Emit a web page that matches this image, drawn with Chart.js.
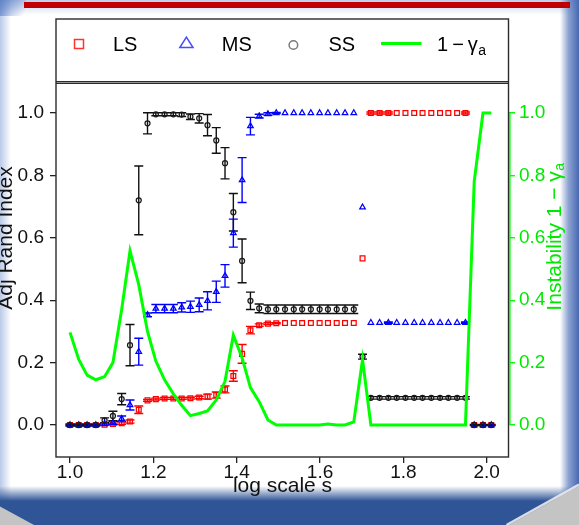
<!DOCTYPE html>
<html><head><meta charset="utf-8">
<script src="https://cdn.jsdelivr.net/npm/chart.js@4.4.0/dist/chart.umd.min.js"></script>
<style>html,body{margin:0;padding:0;background:#fff;overflow:hidden}canvas{display:block}</style>
</head><body>
<canvas id="c" width="579" height="525" style="width:579px;height:525px"></canvas>
<script>
// ---- data ----
const scaleS = [1.000,1.021,1.041,1.062,1.083,1.103,1.124,1.144,1.165,1.186,
                1.206,1.227,1.248,1.268,1.289,1.310,1.330,1.351,1.372,1.392,
                1.413,1.433,1.454,1.475,1.495,1.516,1.537,1.557,1.578,1.599,
                1.619,1.640,1.660,1.681,1.702,1.722,1.743,1.764,1.784,1.805,
                1.826,1.846,1.867,1.888,1.908,1.929,1.949,1.970,1.991,2.011];
const adjRandLS = [0,0,0,0,0.001,0.003,0.006,0.011,0.049,0.079,
                   0.083,0.085,0.085,0.085,0.086,0.088,0.091,0.096,0.114,0.157,
                   0.228,0.304,0.320,0.325,0.326,0.327,0.327,0.327,0.327,0.327,
                   0.327,0.327,0.327,0.327,0.534,1,1,1,1,1,
                   1,1,1,1,1,1,1,0,0,0];
const errLS = [0,0,0,0,0,0.003,0.004,0.005,0.012,0.003,
               0.003,0.003,0.003,0.003,0.003,0.004,0.008,0.010,0.011,0.017,
               0.030,0.012,0.004,0.003,0.002,0,0,0,0,0,
               0,0,0,0,0,0.003,0.003,0.003,0,0,
               0,0,0,0,0,0,0.003,0,0,0];
const adjRandMS = [0,0,0,0,0.003,0.007,0.020,0.064,0.235,0.353,
                   0.373,0.373,0.373,0.377,0.379,0.385,0.398,0.427,0.478,0.615,
                   0.785,0.958,0.990,0.997,1,1,1,1,1,1,
                   1,1,1,1,0.698,0.328,0.328,0.328,0.328,0.328,
                   0.328,0.328,0.328,0.328,0.328,0.328,0.328,0,0,0];
const errMS = [0.002,0.002,0.002,0.002,0.003,0.005,0.009,0.016,0.043,0.006,
               0.013,0.013,0.013,0.015,0.018,0.022,0.029,0.034,0.036,0.045,
               0.072,0.028,0.006,0.004,0.002,0,0,0,0,0,
               0,0,0,0,0,0,0,0.002,0,0,
               0,0,0,0,0,0,0.002,0,0,0];
const adjRandSS = [0,0,0,0,0.015,0.029,0.083,0.256,0.720,0.967,
                   0.996,0.996,0.996,0.995,0.988,0.983,0.961,0.912,0.839,0.682,
                   0.526,0.398,0.374,0.371,0.371,0.371,0.371,0.371,0.371,0.371,
                   0.371,0.371,0.371,0.371,0.219,0.087,0.087,0.087,0.087,0.087,
                   0.087,0.087,0.087,0.087,0.087,0.087,0.087,0,0,0];
const errSS = [0.003,0.003,0.003,0.003,0.008,0.015,0.018,0.066,0.110,0.034,
               0.005,0.005,0.005,0.006,0.009,0.015,0.034,0.041,0.050,0.060,
               0.070,0.028,0.014,0.0135,0.0135,0.0135,0.0135,0.0135,0.0135,0.0135,
               0.0135,0.0135,0.0135,0.0135,0.008,0.004,0.004,0.004,0.004,0.004,
               0.004,0.004,0.004,0.004,0.004,0.004,0.004,0.002,0.002,0.002];
const instability = [0.297,0.210,0.160,0.145,0.155,0.200,0.370,0.558,0.450,0.300,
                     0.205,0.145,0.100,0.063,0.030,0.037,0.045,0.080,0.140,0.288,
                     0.215,0.120,0.075,0.016,0,0,0,0,0,0,
                     0.003,0,0,0.010,0.210,0,0,0,0,0,
                     0,0,0,0,0,0,0,0.780,1.0,1.0];
const xTicks = [1.0,1.2,1.4,1.6,1.8,2.0];
const yTicks = [0,0.2,0.4,0.6,0.8,1.0];
const seriesNames = ['LS','MS','SS'];
const lineName = ['1\u2009\u2212\u2009\u03b3','a'];
const xTitle = 'log scale s';
const yTitle = 'Adj Rand Index';
const y2Title = ['Instability 1 \u2212 \u03b3','a'];

// ---- styles ----
const FONT = '"Liberation Sans", Arial, sans-serif';
const RED = '#ff0000', BLUE = '#0000ff', BLACK = '#1a1a1a', GREEN = '#00ff00', GREEN_TXT = '#00e800';
Chart.defaults.font.family = FONT;

const slideBg = {
  id: 'slideBg',
  beforeDraw(chart) {
    const c = chart.ctx, W = chart.width, H = chart.height;
    c.save();
    c.fillStyle = '#fff'; c.fillRect(0, 0, W, H);
    let g = c.createLinearGradient(0, 0, 11, 0);
    g.addColorStop(0, 'rgba(130,158,212,0.55)'); g.addColorStop(1, 'rgba(130,158,212,0)');
    c.fillStyle = g; c.fillRect(0, 0, 11, H);
    g = c.createLinearGradient(0, 0, 0, 15);
    g.addColorStop(0, 'rgba(140,165,212,0.55)'); g.addColorStop(1, 'rgba(140,165,212,0)');
    c.fillStyle = g; c.fillRect(0, 0, W, 15);
    g = c.createLinearGradient(0, 0, 24, 14);
    g.addColorStop(0, 'rgba(80,118,196,0.8)'); g.addColorStop(1, 'rgba(80,118,196,0)');
    c.fillStyle = g; c.fillRect(0, 0, 26, 16);
    g = c.createLinearGradient(560, 0, 579, 0);
    g.addColorStop(0, 'rgba(78,112,184,0)'); g.addColorStop(0.45, 'rgba(78,112,184,0.65)'); g.addColorStop(1, 'rgba(70,104,178,1)');
    c.fillStyle = g; c.fillRect(560, 0, 19, H);
    g = c.createLinearGradient(0, 486, 0, 501);
    g.addColorStop(0, 'rgba(47,85,151,0)'); g.addColorStop(1, 'rgba(47,85,151,1)');
    c.fillStyle = g; c.fillRect(0, 486, W, 15);
    c.fillStyle = '#2f5597'; c.fillRect(0, 501, W, H - 501);
    c.fillStyle = '#c4c4c4';
    c.beginPath(); c.moveTo(0, 506.5); c.lineTo(34, 525); c.lineTo(0, 525); c.closePath(); c.fill();
    c.beginPath(); c.moveTo(579, 486); c.lineTo(509, 525); c.lineTo(579, 525); c.closePath(); c.fill();
    c.strokeStyle = 'rgba(235,235,235,0.9)'; c.lineWidth = 2.5;
    c.beginPath(); c.moveTo(579, 484.5); c.lineTo(506.5, 525); c.stroke();
    c.fillStyle = '#c00000'; c.fillRect(24, 2, 546, 6);
    c.restore();
  }
};

const errorBars = {
  id: 'errorBars',
  beforeDatasetsDraw(chart) {
    const {ctx, scales: {x, y}} = chart;
    const cap = 4.5;
    ctx.save();
    ctx.lineWidth = 1.4;
    [[adjRandLS, errLS, RED], [adjRandMS, errMS, BLUE], [adjRandSS, errSS, '#111']].forEach(([vals, errs, col]) => {
      ctx.strokeStyle = col;
      ctx.beginPath();
      vals.forEach((v, i) => {
        const e = errs[i]; if (!e) return;
        const px = x.getPixelForValue(scaleS[i]);
        const a = y.getPixelForValue(v - e), b = y.getPixelForValue(v + e);
        ctx.moveTo(px, a); ctx.lineTo(px, b);
        ctx.moveTo(px - cap, a); ctx.lineTo(px + cap, a);
        ctx.moveTo(px - cap, b); ctx.lineTo(px + cap, b);
      });
      ctx.stroke();
    });
    ctx.restore();
  }
};

const frameLegend = {
  id: 'frameLegend',
  afterDraw(chart) {
    const c = chart.ctx, A = chart.chartArea, y2 = chart.scales.y2;
    c.save();
    // frame
    c.strokeStyle = '#2b2b2b'; c.lineWidth = 1.4;
    c.strokeRect(A.left, A.top, A.right - A.left - 0.5, A.bottom - A.top);
    c.lineWidth = 1.2;
    c.beginPath(); c.moveTo(A.left, 81.7); c.lineTo(A.right - 0.5, 81.7);
    c.moveTo(A.left, 83.4); c.lineTo(A.right - 0.5, 83.4); c.stroke();
    // right green axis line
    c.strokeStyle = GREEN; c.lineWidth = 1.6;
    c.beginPath(); c.moveTo(A.right + 0.8, y2.getPixelForValue(yTicks[0])); c.lineTo(A.right + 0.8, y2.getPixelForValue(yTicks[yTicks.length - 1])); c.stroke();
    // legend
    const base = 51;
    c.lineWidth = 1.5;
    c.strokeStyle = '#ff3333'; c.strokeRect(74.5, 39.5, 9, 9);
    c.strokeStyle = '#4a4aff';
    c.beginPath(); c.moveTo(186.4, 37.2); c.lineTo(193, 47.6); c.lineTo(179.8, 47.6); c.closePath(); c.stroke();
    c.strokeStyle = '#7a7a7a';
    c.beginPath(); c.arc(293.4, 45, 4.3, 0, Math.PI * 2); c.stroke();
    c.strokeStyle = GREEN; c.lineWidth = 3;
    c.beginPath(); c.moveTo(381, 43.5); c.lineTo(421.5, 43.5); c.stroke();
    c.fillStyle = '#000'; c.textBaseline = 'alphabetic';
    c.font = '20px ' + FONT;
    c.fillText(seriesNames[0], 113, base);
    c.fillText(seriesNames[1], 221.8, base);
    c.fillText(seriesNames[2], 328.5, base);
    const wm = c.measureText(lineName[0]).width;
    c.fillText(lineName[0], 437, base);
    c.font = '14px ' + FONT;
    c.fillText(lineName[1], 437 + wm + 0.5, base + 4);
    // right axis title (reads bottom to top)
    c.translate(555, 237); c.rotate(-Math.PI / 2);
    c.fillStyle = GREEN_TXT; c.textBaseline = 'middle';
    c.font = '14px ' + FONT; const ws = c.measureText(y2Title[1]).width;
    c.font = '21px ' + FONT; const wt = c.measureText(y2Title[0]).width;
    const x0 = -(wt + ws) / 2;
    c.fillText(y2Title[0], x0, 0);
    c.font = '14px ' + FONT; c.fillText(y2Title[1], x0 + wt + 0.5, 5);
    c.restore();
  }
};

const pts = arr => scaleS.map((s, i) => ({x: s, y: arr[i]}));
const fixTicks = list => s => { s.ticks = list.map(v => ({value: v})); };
const fmt = v => Number(v).toFixed(1);
const Y_MIN = -0.10256, Y_MAX = 1.3013;

new Chart(document.getElementById('c'), {
  type: 'scatter',
  data: {
    datasets: [
      {label: seriesNames[0], data: pts(adjRandLS), pointStyle: 'rect', pointRadius: 3.4, borderColor: RED, backgroundColor: 'rgba(0,0,0,0)', pointBorderWidth: 1.25, order: 3, yAxisID: 'y'},
      {label: seriesNames[1], data: pts(adjRandMS), pointStyle: 'triangle', pointRadius: 3.2, borderColor: BLUE, backgroundColor: 'rgba(0,0,0,0)', pointBorderWidth: 1.25, order: 2, yAxisID: 'y'},
      {label: seriesNames[2], data: pts(adjRandSS), pointStyle: 'circle', pointRadius: 2.5, borderColor: BLACK, backgroundColor: 'rgba(0,0,0,0)', pointBorderWidth: 1.25, order: 1, yAxisID: 'y'},
      {label: lineName.join(''), data: pts(instability), showLine: true, borderColor: GREEN, backgroundColor: GREEN, borderWidth: 3, pointRadius: 0, tension: 0, order: 0, yAxisID: 'y2'}
    ]
  },
  options: {
    responsive: false, animation: false, devicePixelRatio: 1, events: [],
    layout: {padding: {top: 19, left: 0, right: 0, bottom: 0}},
    plugins: {legend: {display: false}, tooltip: {enabled: false}},
    scales: {
      x: {
        type: 'linear', position: 'bottom', min: 0.9664, max: 2.0535,
        afterBuildTicks: fixTicks(xTicks), afterFit: s => { s.height = 68; },
        grid: {drawOnChartArea: false, drawTicks: true, tickLength: 6, color: '#222', lineWidth: 1.3},
        border: {display: false},
        ticks: {autoSkip: false, maxRotation: 0, minRotation: 0, padding: -1.5, color: '#111', font: {size: 19}, callback: fmt},
        title: {display: true, text: xTitle, color: '#111', font: {size: 21, lineHeight: 1}, padding: {top: 0, bottom: 28}}
      },
      y: {
        type: 'linear', position: 'left', min: Y_MIN, max: Y_MAX,
        afterBuildTicks: fixTicks(yTicks), afterFit: s => { s.width = 56; },
        grid: {drawOnChartArea: false, drawTicks: true, tickLength: 6, color: '#222', lineWidth: 1.3},
        border: {display: false},
        ticks: {autoSkip: false, padding: 6, color: '#111', font: {size: 19}, callback: fmt},
        title: {display: true, text: yTitle, color: '#111', font: {size: 21, lineHeight: 1}, padding: {top: -4.5, bottom: 0}}
      },
      y2: {
        type: 'linear', position: 'right', min: Y_MIN, max: Y_MAX,
        afterBuildTicks: fixTicks(yTicks), afterFit: s => { s.width = 70; },
        grid: {drawOnChartArea: false, drawTicks: true, tickLength: 6, color: GREEN, lineWidth: 1.4},
        border: {display: false},
        ticks: {autoSkip: false, padding: 4, color: GREEN_TXT, font: {size: 19}, callback: fmt},
        title: {display: false}
      }
    }
  },
  plugins: [slideBg, errorBars, frameLegend]
});
</script>
</body></html>
